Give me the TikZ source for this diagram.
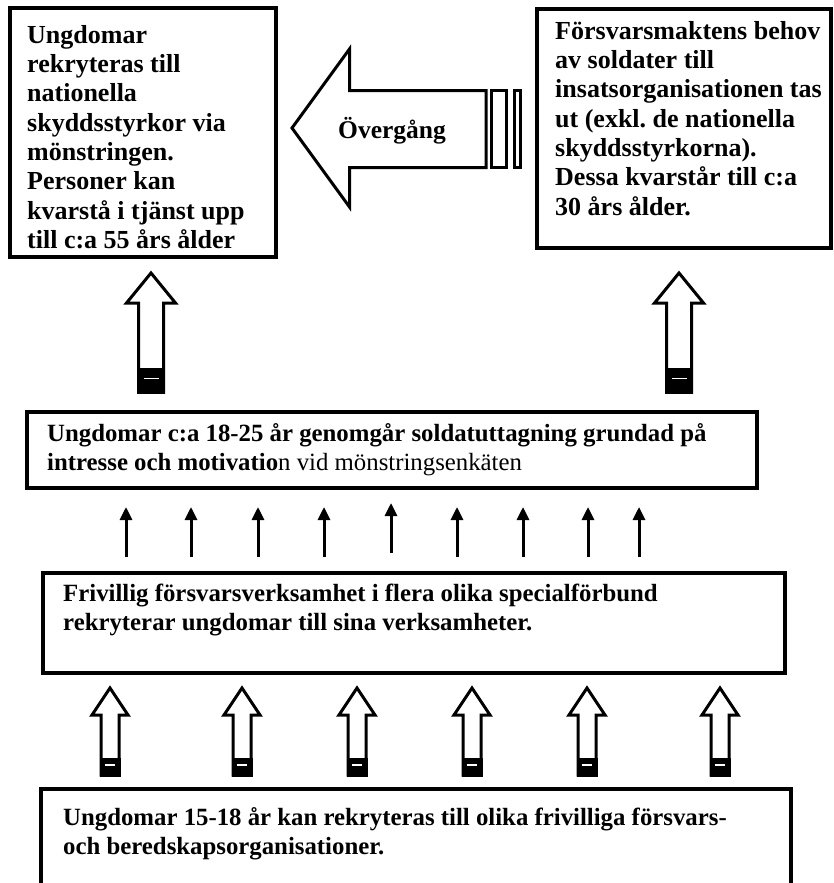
\documentclass[tikz,border=0pt]{standalone}
\usepackage{fontspec}
\setmainfont{Liberation Serif}
\usepackage{tikz}
\usetikzlibrary{arrows.meta}
\usetikzlibrary{positioning}
\frenchspacing
\tikzstyle{box}=[draw=black, line width=3.3pt, anchor=north west, inner sep=0pt, outer sep=0pt]
\tikzstyle{toptxt}=[anchor=north west, align=left, inner sep=0pt, font=\fontsize{26}{29.3}\selectfont\bfseries]
\tikzstyle{lowtxt}=[anchor=north west, align=left, inner sep=0pt, font=\fontsize{24.8}{29}\selectfont\bfseries]
\tikzstyle{hollow}=[draw=black, line width=3pt, fill=white, line join=miter]
\tikzstyle{thinarr}=[->, line width=3pt]
\tikzset{>={Triangle[width=12pt,length=13pt]}}
\tikzset{
  pics/blockup/.style n args={4}{code={
      \draw[hollow] (0,0) -- (#1,#3) -- (#2,#3) -- (#2,#4) -- (-#2,#4) -- (-#2,#3) -- (-#1,#3) -- cycle;
      \fill (-#2-1.5,0.8*#4) rectangle (#2+1.5,#4+1.5);
      \draw[white, line width=1.3pt] (-0.6*#2,0.885*#4) -- (0.6*#2,0.885*#4);
  }}
}

\begin{document}
\begin{tikzpicture}[x=1pt, y=-1pt]
        \useasboundingbox (0,0) rectangle (834,883);

        % Top boxes
        \node[box, minimum width=266pt, minimum height=249pt] (nationella) at (10,8) {};
        \node[toptxt] (nationella_txt) at (27,22.5) {\strut Ungdomar\\rekryteras till\\nationella\\skyddsstyrkor via\\mönstringen.\\Personer kan\\kvarstå i tjänst upp\\till c:a 55 års ålder};

        \node[box, minimum width=294pt, minimum height=239pt] (insats) at (537,9) {};
        \node[toptxt] (insats_txt) at (555,18.5) {\strut Försvarsmaktens behov\\av soldater till\\insatsorganisationen tas\\ut (exkl.\ de nationella\\skyddsstyrkorna).\\Dessa kvarstår till c:a\\30 års ålder.};

        % Transition arrow
        \draw[hollow] (292,128) -- (349.5,49) -- (349.5,90.5) -- (486,90.5) -- (486,167.5)
          -- (349.5,167.5) -- (349.5,207) -- cycle;
        \draw[hollow] (491.5,90.5) rectangle (506.5,167.5);
        \draw[hollow] (514.5,90.5) rectangle (520.5,167.5);
        \node[anchor=base, inner sep=0pt, font=\fontsize{25.5}{29}\selectfont\bfseries] (overgang) at (392,138) {Övergång};

        % Middle box
        \node[box, minimum width=730pt, minimum height=76pt] (soldat) at (27,412) {};
        \node[lowtxt] (soldat_txt) at (47,420.5) {\strut Ungdomar c:a 18-25 år genomgår soldatuttagning grundad på\\intresse och motivatio{\mdseries n vid mönstringsenkäten}};

        \foreach \x in {151,679}
          \pic at (\x,273) {blockup={24.5}{12.5}{30}{119}};

        % Frivillig
        \node[box, minimum width=742pt, minimum height=100pt] (frivillig) at (43,573) {};
        \node[lowtxt] (frivillig_txt) at (63,580.5) {\strut Frivillig försvarsverksamhet i flera olika specialförbund\\rekryterar ungdomar till sina verksamheter.};

        \foreach \x/\s in {126/0,191/0,258/0,324/0,391/4,457/0,523/0,588/0,639/0}
          \draw[thinarr] ([yshift=16pt+\s pt]\x,0 |- frivillig.north) -- ([yshift=-19pt+\s pt]\x,0 |- soldat.south);

        % Bottom box
        \node[box, minimum width=750pt, minimum height=130pt] (ungdomar) at (41,789) {};
        \node[lowtxt] (ungdomar_txt) at (63,804.5) {\strut Ungdomar 15-18 år kan rekryteras till olika frivilliga försvars-\\och beredskapsorganisationer.};

        \foreach \x in {110,242,357,472,587,720}
          \pic at (\x,688) {blockup={18}{9}{27}{87}};
\end{tikzpicture}
\end{document}
